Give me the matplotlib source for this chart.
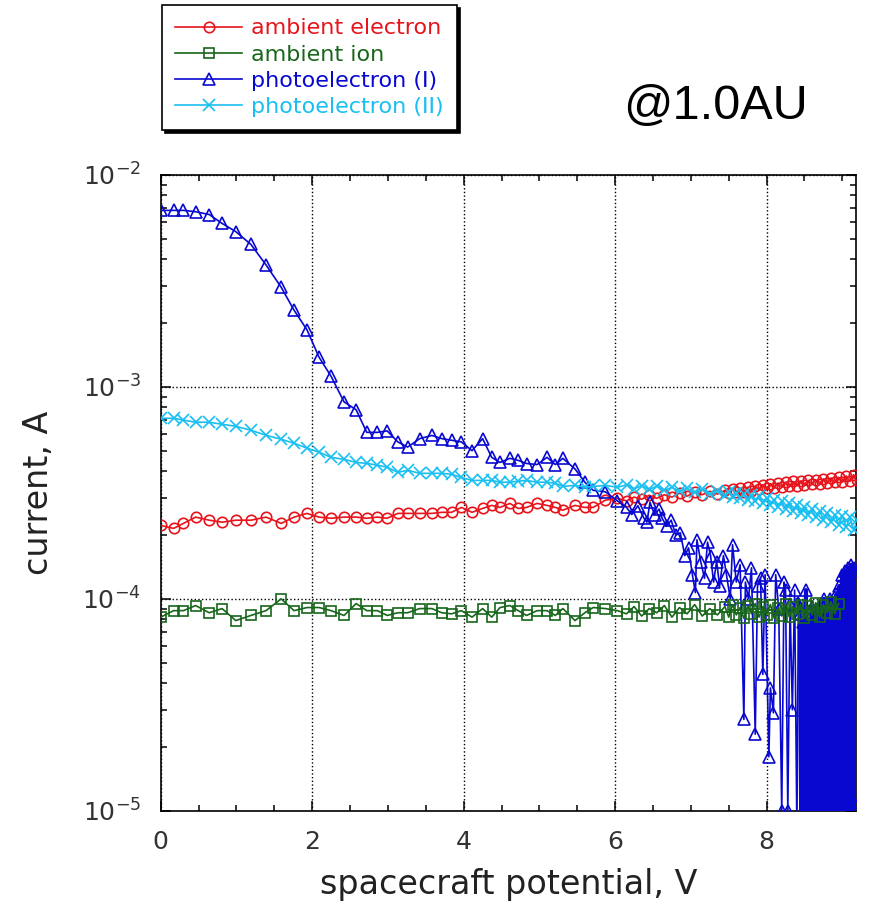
import numpy as np
import matplotlib.pyplot as plt
from matplotlib.ticker import MultipleLocator

# 电位采样点 (0 ~ 6 V, 四条曲线共用)
x_lo = [0.00, 0.17, 0.30, 0.46, 0.64, 0.81, 0.99, 1.19, 1.39, 1.59, 1.76, 1.93, 2.09, 2.25,
        2.42, 2.58, 2.72, 2.86, 2.99, 3.13, 3.26, 3.42, 3.58, 3.71, 3.84, 3.97, 4.11, 4.25,
        4.37, 4.48, 4.61, 4.72, 4.83, 4.97, 5.10, 5.21, 5.31, 5.47, 5.60, 5.71, 5.87, 6.03]
# 6 V 以上采样更密
x_hi = [6.15, 6.25, 6.35, 6.45, 6.55, 6.65, 6.75, 6.85, 6.95, 7.05, 7.15, 7.25, 7.35, 7.45,
        7.50, 7.55, 7.60, 7.65, 7.70, 7.75, 7.80, 7.85, 7.90, 7.95, 8.00, 8.05, 8.10, 8.15,
        8.20, 8.25, 8.30, 8.35, 8.40, 8.45, 8.50, 8.55, 8.60, 8.65, 8.70, 8.75, 8.80, 8.85,
        8.90, 8.95, 9.00, 9.05, 9.10, 9.15, 9.20]

# ambient electron
elec_lo = [2.22e-4, 2.15e-4, 2.27e-4, 2.43e-4, 2.35e-4, 2.30e-4, 2.35e-4, 2.35e-4, 2.43e-4, 2.27e-4,
           2.43e-4, 2.53e-4, 2.43e-4, 2.40e-4, 2.43e-4, 2.43e-4, 2.40e-4, 2.43e-4, 2.40e-4, 2.53e-4,
           2.53e-4, 2.53e-4, 2.53e-4, 2.56e-4, 2.56e-4, 2.70e-4, 2.56e-4, 2.67e-4, 2.76e-4, 2.70e-4,
           2.82e-4, 2.67e-4, 2.70e-4, 2.82e-4, 2.76e-4, 2.70e-4, 2.62e-4, 2.76e-4, 2.70e-4, 2.70e-4,
           2.92e-4, 2.98e-4]
elec_hi = [2.90e-4, 3.02e-4, 2.95e-4, 3.08e-4, 2.98e-4, 3.10e-4, 3.02e-4, 3.15e-4, 3.05e-4, 3.18e-4,
           3.10e-4, 3.22e-4, 3.12e-4, 3.25e-4, 3.15e-4, 3.30e-4, 3.18e-4, 3.32e-4, 3.20e-4, 3.36e-4,
           3.24e-4, 3.40e-4, 3.28e-4, 3.44e-4, 3.32e-4, 3.48e-4, 3.35e-4, 3.52e-4, 3.38e-4, 3.55e-4,
           3.40e-4, 3.58e-4, 3.42e-4, 3.60e-4, 3.45e-4, 3.62e-4, 3.47e-4, 3.65e-4, 3.50e-4, 3.68e-4,
           3.52e-4, 3.72e-4, 3.55e-4, 3.75e-4, 3.56e-4, 3.80e-4, 3.58e-4, 3.85e-4, 3.62e-4]

# ambient ion
ion_lo = [8.2e-5, 8.8e-5, 8.8e-5, 9.3e-5, 8.6e-5, 9.0e-5, 7.9e-5, 8.35e-5, 8.8e-5, 1.0e-4,
          8.8e-5, 9.1e-5, 9.1e-5, 8.8e-5, 8.35e-5, 9.5e-5, 8.8e-5, 8.8e-5, 8.35e-5, 8.6e-5,
          8.6e-5, 9.0e-5, 9.0e-5, 8.6e-5, 8.5e-5, 8.8e-5, 8.2e-5, 9.0e-5, 8.2e-5, 9.1e-5,
          9.3e-5, 8.8e-5, 8.35e-5, 8.8e-5, 8.8e-5, 8.35e-5, 9.0e-5, 7.9e-5, 8.6e-5, 9.1e-5,
          9.0e-5, 8.8e-5]
ion_hi = [8.5e-5, 9.2e-5, 8.3e-5, 9.0e-5, 8.6e-5, 9.3e-5, 8.2e-5, 9.1e-5, 8.5e-5, 9.4e-5,
          8.3e-5, 9.0e-5, 8.4e-5, 9.2e-5, 8.2e-5, 9.4e-5, 8.4e-5, 9.1e-5, 8.1e-5, 9.3e-5,
          8.5e-5, 9.5e-5, 8.2e-5, 9.2e-5, 8.4e-5, 9.4e-5, 8.1e-5, 9.1e-5, 8.3e-5, 9.5e-5,
          8.2e-5, 9.2e-5, 8.5e-5, 9.4e-5, 8.1e-5, 9.3e-5, 8.4e-5, 9.6e-5, 8.2e-5, 9.4e-5,
          8.6e-5, 9.7e-5, 8.5e-5, 9.5e-5]

# photoelectron (I)
ph1_lo = [6.8e-3, 6.8e-3, 6.8e-3, 6.7e-3, 6.5e-3, 5.9e-3, 5.4e-3, 4.7e-3, 3.76e-3, 2.95e-3,
          2.3e-3, 1.86e-3, 1.38e-3, 1.12e-3, 8.5e-4, 7.8e-4, 6.1e-4, 6.1e-4, 6.2e-4, 5.5e-4,
          5.2e-4, 5.7e-4, 5.9e-4, 5.7e-4, 5.6e-4, 5.5e-4, 5.0e-4, 5.7e-4, 4.65e-4, 4.4e-4,
          4.6e-4, 4.5e-4, 4.35e-4, 4.3e-4, 4.65e-4, 4.3e-4, 4.6e-4, 4.1e-4, 3.55e-4, 3.25e-4,
          3.2e-4, 2.9e-4]
ph1_x_hi = [6.15, 6.22, 6.30, 6.38, 6.42, 6.46, 6.52, 6.58, 6.62, 6.68, 6.74, 6.80, 6.86, 6.92,
            6.97, 7.02, 7.06, 7.08, 7.13, 7.18, 7.22, 7.26, 7.30, 7.34, 7.38, 7.43, 7.47, 7.52,
            7.55, 7.60, 7.65, 7.70, 7.72, 7.76, 7.80, 7.85, 7.88, 7.92, 7.95, 7.98, 8.03, 8.05,
            8.09, 8.12, 8.16, 8.20, 8.23, 8.25, 8.28, 8.31, 8.34, 8.37, 8.40, 8.42]
ph1_hi = [2.7e-4, 2.5e-4, 2.75e-4, 2.4e-4, 2.3e-4, 2.85e-4, 2.5e-4, 2.65e-4, 2.4e-4, 2.2e-4,
          2.35e-4, 2.0e-4, 2.05e-4, 1.6e-4, 1.74e-4, 1.3e-4, 1.07e-4, 1.9e-4, 1.5e-4, 1.25e-4,
          1.85e-4, 1.6e-4, 1.2e-4, 1.5e-4, 1.15e-4, 1.6e-4, 1.3e-4, 1.0e-4, 1.8e-4, 1.2e-4,
          1.45e-4, 2.7e-5, 1.2e-4, 1.0e-4, 1.4e-4, 2.3e-5, 1.15e-4, 1.25e-4, 4.4e-5, 1.3e-4,
          1.8e-5, 3.8e-5, 2.9e-5, 1.3e-4, 9.0e-5, 1.0e-5, 1.2e-4, 1.1e-4, 1.0e-5, 9.5e-5,
          3.0e-5, 1.1e-4, 8.0e-6, 9.6e-5]
# 8.4 V 以上噪声很大, 几乎填满
ph1_x_noise = [8.42, 8.44, 8.46, 8.48, 8.50, 8.52, 8.54, 8.56, 8.58, 8.60, 8.62, 8.64, 8.66, 8.68,
               8.70, 8.72, 8.74, 8.76, 8.78, 8.80, 8.82, 8.84, 8.86, 8.88, 8.90, 8.92, 8.94, 8.96,
               8.98, 9.00, 9.02, 9.04, 9.06, 9.08, 9.10, 9.12, 9.14, 9.16, 9.18, 9.20, 9.22]
ph1_noise = [9.6e-5, 8.5e-5, 6e-6, 7.8e-5, 6e-6, 1.1e-4, 6e-6, 8.0e-5, 6e-6, 9.2e-5, 6e-6,
             8.2e-5, 6e-6, 9.0e-5, 6e-6, 9.5e-5, 6e-6, 1.0e-4, 6e-6, 9.0e-5, 6e-6,
             1.0e-4, 6e-6, 9.6e-5, 6e-6, 1.05e-4, 6e-6, 1.15e-4, 6e-6, 1.3e-4, 6e-6,
             1.35e-4, 6e-6, 1.4e-4, 6e-6, 1.45e-4, 6e-6, 1.4e-4, 6e-6, 1.35e-4, 1.1e-5]

# photoelectron (II)
ph2_lo = [7.11e-4, 7.11e-4, 6.97e-4, 6.81e-4, 6.81e-4, 6.66e-4, 6.52e-4, 6.24e-4, 5.91e-4, 5.66e-4,
          5.42e-4, 5.14e-4, 4.92e-4, 4.65e-4, 4.55e-4, 4.40e-4, 4.36e-4, 4.27e-4, 4.18e-4, 3.95e-4,
          4.04e-4, 3.91e-4, 3.91e-4, 3.91e-4, 3.87e-4, 3.74e-4, 3.62e-4, 3.62e-4, 3.62e-4, 3.55e-4,
          3.55e-4, 3.59e-4, 3.62e-4, 3.55e-4, 3.55e-4, 3.51e-4, 3.39e-4, 3.43e-4, 3.36e-4, 3.39e-4,
          3.43e-4, 3.36e-4]
ph2_hi = [3.45e-4, 3.30e-4, 3.42e-4, 3.28e-4, 3.40e-4, 3.25e-4, 3.36e-4, 3.22e-4, 3.32e-4, 3.18e-4,
          3.28e-4, 3.12e-4, 3.24e-4, 3.08e-4, 3.20e-4, 3.02e-4, 3.16e-4, 2.98e-4, 3.12e-4, 2.94e-4,
          3.08e-4, 2.88e-4, 3.04e-4, 2.84e-4, 3.00e-4, 2.78e-4, 2.94e-4, 2.72e-4, 2.88e-4, 2.66e-4,
          2.82e-4, 2.60e-4, 2.76e-4, 2.54e-4, 2.70e-4, 2.48e-4, 2.64e-4, 2.42e-4, 2.60e-4, 2.36e-4,
          2.55e-4, 2.30e-4, 2.50e-4, 2.24e-4, 2.46e-4, 2.18e-4, 2.42e-4, 2.12e-4, 2.36e-4]

c_elec = '#e8141c'
c_ion = '#17661a'
c_ph1 = '#0808d0'
c_ph2 = '#19bff0'

plt.rcParams['font.family'] = ['DejaVu Sans']
# 锯齿状的噪声段不要被简化掉
plt.rcParams['path.simplify'] = False

fig = plt.figure(figsize=(8.69, 9.06), dpi=100)
ax = fig.add_axes([0.185, 0.105, 0.8, 0.702])

mk = dict(markerfacecolor='none', markeredgewidth=1.2, linewidth=1.2)

l1, = ax.plot(x_lo + x_hi, elec_lo + elec_hi, '-o', color=c_elec, markersize=7.5,
              label='ambient electron', zorder=3, **mk)
l3, = ax.plot(x_lo + ph1_x_hi, ph1_lo + ph1_hi, '-^', color=c_ph1,
              markersize=8.5, label='photoelectron (I)', zorder=3, **mk)
# 噪声段线画粗一点, 连成一片
ax.plot(ph1_x_noise, ph1_noise, '-^', color=c_ph1, markersize=8.5, markerfacecolor='none',
        markeredgewidth=1.2, linewidth=3.0, zorder=3)
l2, = ax.plot(x_lo + x_hi[:len(ion_hi)], ion_lo + ion_hi, '-s', color=c_ion, markersize=7.5,
              label='ambient ion', zorder=4, **mk)
l4, = ax.plot(x_lo + x_hi, ph2_lo + ph2_hi, '-x', color=c_ph2, markersize=8,
              label='photoelectron (II)', zorder=3, **mk)

ax.set_yscale('log')
ax.set_xlim(0, 9.18)
ax.set_ylim(1e-5, 1e-2)
ax.xaxis.set_major_locator(MultipleLocator(2))
ax.xaxis.set_minor_locator(MultipleLocator(0.5))

ax.grid(which='major', linestyle=':', color='k', linewidth=1.0)
ax.tick_params(which='both', direction='in', top=True, right=True, width=1.1,
               labelsize=18, labelcolor='#333333', pad=14)
ax.tick_params(which='major', length=7)
ax.tick_params(which='minor', length=4)
for s in ax.spines.values():
    s.set_linewidth(1.2)

ax.set_xlabel('spacecraft potential, V', fontsize=24, color='#222222', labelpad=10)
ax.set_ylabel('current, A', fontsize=24, color='#222222', labelpad=20)

leg = fig.legend(handles=[l1, l2, l3, l4], loc='upper left',
                 bbox_to_anchor=(162 / 869, 1 - 5 / 906), borderaxespad=0,
                 fontsize=16, labelcolor='linecolor',
                 numpoints=1, handlelength=3.0, handletextpad=0.4, labelspacing=0.28,
                 borderpad=0.6, fancybox=False, edgecolor='k',
                 shadow={'color': 'k', 'alpha': 1.0})
leg.get_frame().set_linewidth(1.2)

fig.text(623 / 869, 1 - 119 / 906, '@1.0AU', fontsize=35, family='Liberation Sans',
         ha='left', va='baseline')

plt.savefig('out.png', dpi=100)
